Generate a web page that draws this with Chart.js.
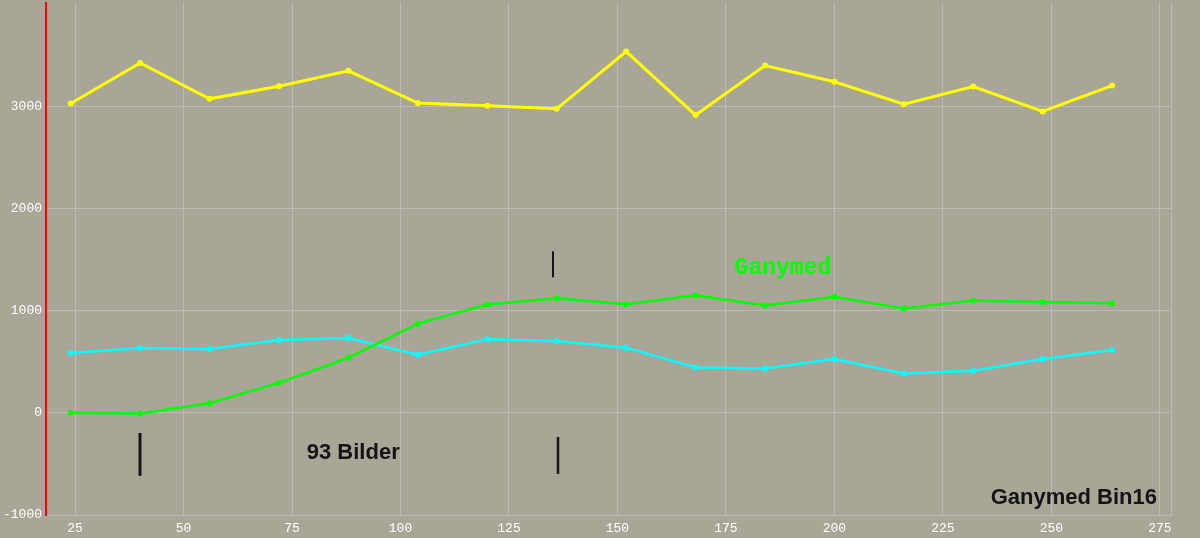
<!DOCTYPE html>
<html>
<head>
<meta charset="utf-8">
<script src="https://cdn.jsdelivr.net/npm/chart.js@4/dist/chart.umd.min.js"></script>
<style>
  html, body { margin: 0; padding: 0; background: #a9a698; }
  #wrap { width: 1200px; height: 538px; }
</style>
</head>
<body>
<div id="wrap"><canvas id="chart" width="1200" height="538"></canvas></div>
<script>
// frame positions (x axis)
var frames = [24, 40, 56, 72, 88, 104, 120, 136, 152, 168, 184, 200, 216, 232, 248, 264];

// series values
var yellowVals = [3032, 3430, 3078, 3202, 3352, 3036, 3010, 2980, 3541, 2919, 3404, 3245, 3026, 3199, 2954, 3208];
var greenVals = [2, -6, 95, 295, 541, 875, 1062, 1125, 1066, 1154, 1052, 1138, 1023, 1102, 1088, 1076];
var cyanVals = [587, 636, 626, 715, 734, 570, 721, 705, 640, 446, 436, 528, 387, 413, 528, 617];

// tick labels
var xTicks = [25, 50, 75, 100, 125, 150, 175, 200, 225, 250, 275];
var yTicks = [-1000, 0, 1000, 2000, 3000];

function toPoints(vals) {
  return vals.map(function (v, i) {
    return { x: frames[i], y: v };
  });
}

function makeSet(label, vals, color, width) {
  return {
    label: label,
    data: toPoints(vals),
    borderColor: color,
    backgroundColor: color,
    borderWidth: width,
    pointRadius: 3,
    pointHoverRadius: 3,
    pointBorderWidth: 0,
    tension: 0,
  };
}

var gridColor = "#bcbab2";
var tickFont = { family: "'Liberation Mono', 'DejaVu Sans Mono', monospace", size: 13 };

// black marks and captions drawn on top of the plot
var overlay = {
  id: "overlay",
  afterDraw: function (chart) {
    var ctx = chart.ctx;
    var xs = chart.scales.x;
    var ys = chart.scales.y;
    var area = chart.chartArea;

    // frame on the right edge
    ctx.save();
    ctx.strokeStyle = gridColor;
    ctx.lineWidth = 1;
    ctx.beginPath();
    ctx.moveTo(area.right - 0.5, area.top);
    ctx.lineTo(area.right - 0.5, area.bottom);
    ctx.stroke();

    function mark(xv, y1, y2, w) {
      var px = Math.round(xs.getPixelForValue(xv));
      ctx.strokeStyle = "#161616";
      ctx.lineWidth = w;
      ctx.beginPath();
      ctx.moveTo(px, ys.getPixelForValue(y1));
      ctx.lineTo(px, ys.getPixelForValue(y2));
      ctx.stroke();
    }
    mark(40, -196, -616, 3);
    mark(136.2, -235, -597, 2.5);
    mark(135.1, 1585, 1330, 2);

    ctx.textBaseline = "middle";
    ctx.textAlign = "left";
    ctx.fillStyle = "#141414";
    ctx.font = "bold 22px 'Liberation Sans', Arial, sans-serif";
    ctx.fillText("93 Bilder", xs.getPixelForValue(78.4), 453);
    ctx.textAlign = "right";
    ctx.fillText("Ganymed Bin16", 1157, 498);

    ctx.textAlign = "left";
    ctx.fillStyle = "#00ff00";
    ctx.font = "bold 23px 'Liberation Mono', 'Courier New', monospace";
    ctx.fillText("Ganymed", xs.getPixelForValue(177), 268);
    ctx.restore();
  },
};

new Chart(document.getElementById("chart"), {
  type: "line",
  data: {
    datasets: [
      makeSet("Gelb", yellowVals, "#ffff00", 3),
      makeSet("Ganymed", greenVals, "#00ff00", 2.5),
      makeSet("Cyan", cyanVals, "#00ffff", 2.5),
    ],
  },
  options: {
    responsive: false,
    animation: false,
    layout: { padding: { top: 0, right: 28, left: 0, bottom: 0 } },
    plugins: {
      legend: { display: false },
      tooltip: { enabled: false },
    },
    scales: {
      x: {
        type: "linear",
        min: 18.3,
        max: 277.8,
        grid: { color: gridColor, lineWidth: 1, drawTicks: false },
        border: { display: false },
        ticks: {
          color: "#ffffff",
          padding: 6,
          font: tickFont,
          maxRotation: 0,
          autoSkip: false,
          callback: function (v) {
            return String(v);
          },
        },
        afterBuildTicks: function (scale) {
          scale.ticks = xTicks.map(function (v) {
            return { value: v };
          });
        },
        afterFit: function (scale) {
          scale.height = 23;
          scale.paddingLeft = 0;
          scale.paddingRight = 0;
        },
      },
      y: {
        min: -1000,
        max: 4017,
        grid: { color: gridColor, lineWidth: 1, drawTicks: false },
        border: { color: "#ff0000", width: 2 },
        ticks: {
          color: "#ffffff",
          padding: 4,
          font: tickFont,
          autoSkip: false,
          callback: function (v) {
            return String(v);
          },
        },
        afterBuildTicks: function (scale) {
          scale.ticks = yTicks.map(function (v) {
            return { value: v };
          });
        },
        afterFit: function (scale) {
          scale.width = 46;
          scale.paddingTop = 0;
          scale.paddingBottom = 0;
        },
      },
    },
  },
  plugins: [overlay],
});
</script>
</body>
</html>
